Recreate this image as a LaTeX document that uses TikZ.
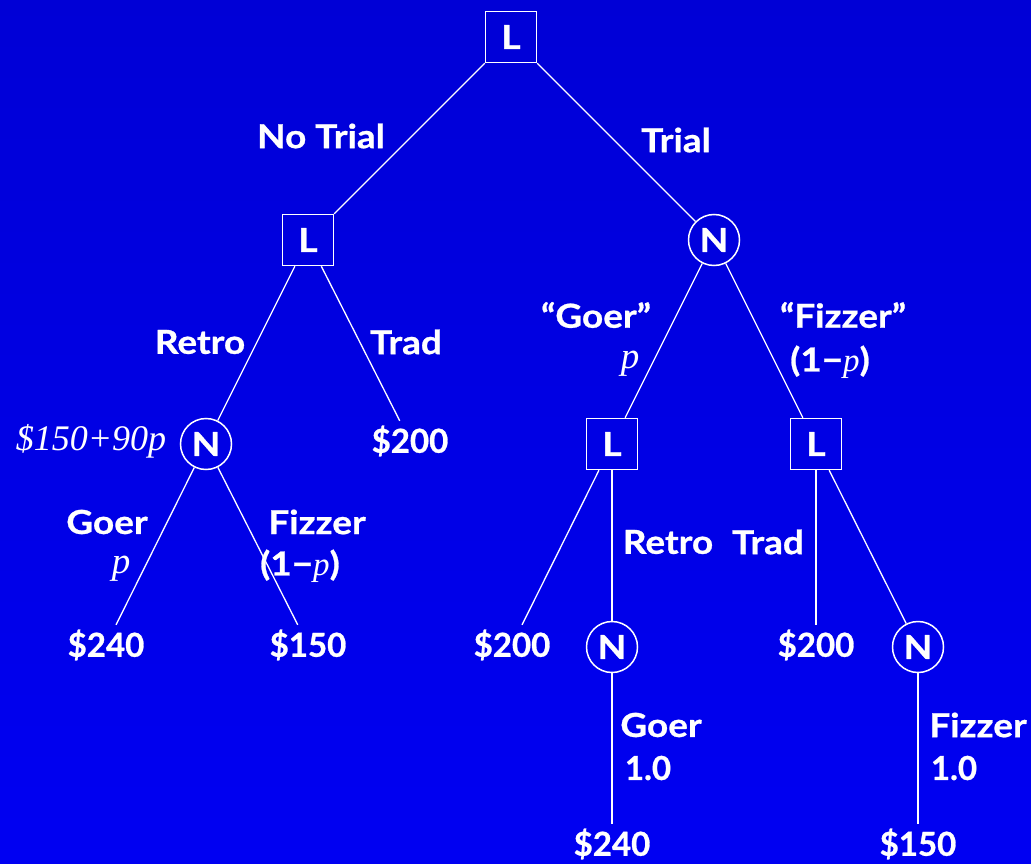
\documentclass[tikz,border=0pt]{standalone}
\usepackage{fontspec}
\setmainfont{Lato}[BoldFeatures={FakeStretch=1.12,FakeBold=0.8}]
\newfontfamily\numfont{Lato}[BoldFeatures={FakeBold=0.8}]
\newfontfamily\serifit{Liberation Serif}
\definecolor{bgtop}{RGB}{0,0,214}
\definecolor{bgbot}{RGB}{0,0,242}
\tikzset{
  every node/.style={text=white, font=\fontsize{33}{36}\selectfont\bfseries},
  lbox/.style={draw=white, line width=1.5pt, minimum width=51pt, minimum height=51pt, inner sep=0pt},
  ncirc/.style={draw=white, circle, line width=1.5pt, minimum size=51pt, inner sep=0pt},
  leaf/.style={minimum height=40pt, inner sep=0pt, font=\fontsize{33}{36}\selectfont\numfont\bfseries},
  lbl/.style={inner sep=0pt},
  pit/.style={inner sep=0pt, font=\fontsize{37}{40}\selectfont\serifit\itshape},
  edge/.style={draw=white, line width=1.3pt},
}
\begin{document}
\begin{tikzpicture}[x=1pt,y=-1pt]
\fill[top color=bgtop, bottom color=bgbot] (0,0) rectangle (1031,864);
\useasboundingbox (0,0) rectangle (1031,864);
% decision and chance nodes
\node[lbox] (root) at (511,37) {L};
\node[lbox] (l1) at (308,240) {L};
\node[ncirc] (n1) at (714,240) {N};
\node[ncirc] (n2) at (206,444) {N};
\node[lbox] (l3) at (612,444) {L};
\node[lbox] (l4) at (816,444) {L};
\node[ncirc] (n3) at (612,647) {N};
\node[ncirc] (n4) at (918,647) {N};
% leaves
\node[leaf] (t200a) at (410,441) {\$200};
\node[leaf] (t240a) at (106,645) {\$240};
\node[leaf] (t150a) at (308,645) {\$150};
\node[leaf] (t200b) at (512,645) {\$200};
\node[leaf] (t200c) at (816,645) {\$200};
\node[leaf] (t240b) at (612,844) {\$240};
\node[leaf] (t150b) at (918,844) {\$150};
% edges
\draw[edge] (root) -- (l1);
\draw[edge] (root) -- (n1);
\draw[edge] (l1) -- (n2);
\draw[edge] (l1) -- (t200a);
\draw[edge] (n2) -- (t240a);
\draw[edge] (n2) -- (t150a);
\draw[edge] (n1) -- (l3);
\draw[edge] (n1) -- (l4);
\draw[edge] (l3) -- (t200b);
\draw[edge] (l3) -- (n3);
\draw[edge] (l4) -- (t200c);
\draw[edge] (l4) -- (n4);
\draw[edge] (n3) -- (t240b);
\draw[edge] (n4) -- (t150b);
% labels
\node[lbl] (lnotrial) at (321,136) {No Trial};
\node[lbl] (ltrial) at (676,140) {Trial};
\node[lbl] (lretro1) at (200,342) {Retro};
\node[lbl] (ltrad1) at (406,342) {Trad};
\node[lbl, font=\fontsize{36}{40}\selectfont\serifit\itshape] (lev) at (91,441) {\$150+90p};
\node[lbl] (lgoer1) at (107,522) {Goer};
\node[pit] (lp1) at (121,569) {p};
\node[lbl] (lfiz1) at (317,522) {Fizzer};
\node[lbl] (lq1) at (300,566) {(1−{\serifit\itshape\mdseries p})};
\node[lbl] (lgoer2) at (596,315) {“Goer”};
\node[pit] (lp2) at (630,364) {p};
\node[lbl] (lfiz2) at (843,315) {“Fizzer”};
\node[lbl] (lq2) at (830,362) {(1−{\serifit\itshape\mdseries p})};
\node[lbl] (lretro2) at (668,542) {Retro};
\node[lbl] (ltrad2) at (768,542) {Trad};
\node[lbl] (lgoer3) at (661,725) {Goer};
\node[lbl, font=\fontsize{33}{36}\selectfont\numfont\bfseries] (lone1) at (648,768) {1.0};
\node[lbl] (lfiz3) at (978,725) {Fizzer};
\node[lbl, font=\fontsize{33}{36}\selectfont\numfont\bfseries] (lone2) at (954,768) {1.0};
\end{tikzpicture}
\end{document}
